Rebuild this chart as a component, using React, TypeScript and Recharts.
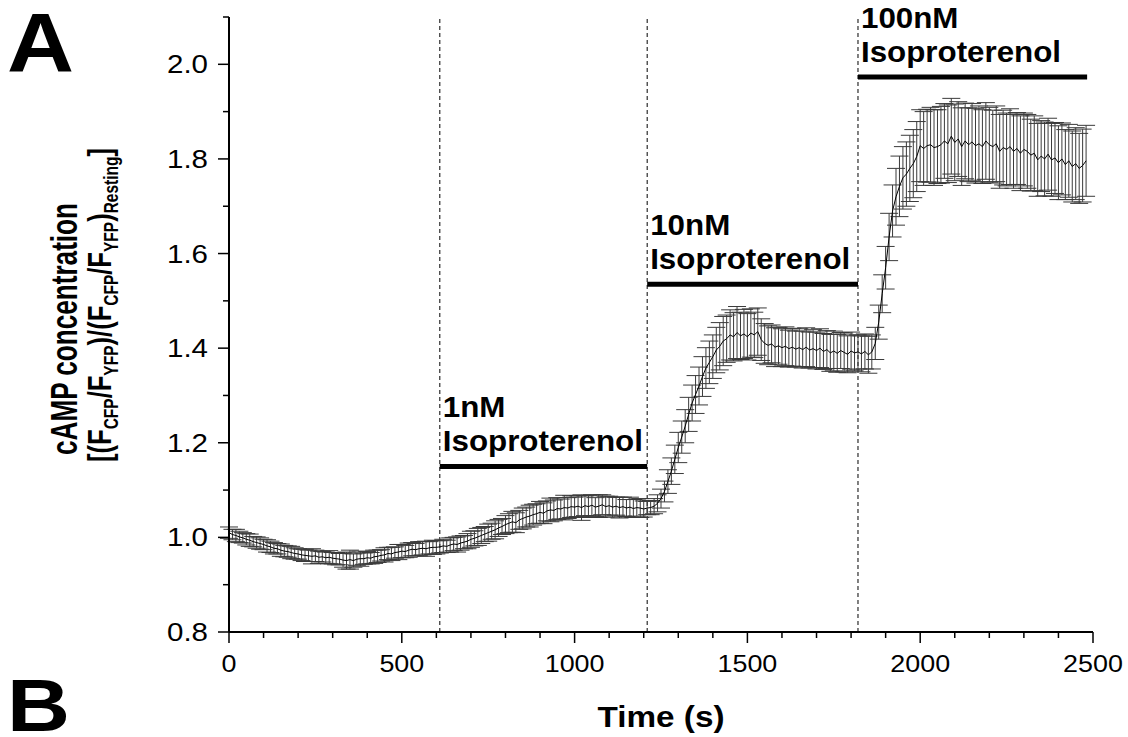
import { ComposedChart, Line, XAxis, YAxis, ErrorBar, ReferenceLine } from 'recharts';

// sampling interval of the recording, s
const STEP = 10;

// resting, 0–600 s
const restMean = [
  1.010, 1.006, 1.004, 1.001, 0.999, 0.996, 0.994, 0.991, 0.989, 0.987,
  0.985, 0.982, 0.980, 0.977, 0.976, 0.973, 0.971, 0.970, 0.968, 0.966,
  0.965, 0.963, 0.962, 0.961, 0.960, 0.961, 0.958, 0.959, 0.957, 0.958,
  0.956, 0.955, 0.954, 0.952, 0.951, 0.953, 0.951, 0.954, 0.955, 0.955,
  0.957, 0.956, 0.959, 0.960, 0.962, 0.963, 0.966, 0.965, 0.968, 0.969,
  0.971, 0.970, 0.973, 0.975, 0.974, 0.976, 0.977, 0.976, 0.978, 0.979, 0.979,
];
const restErr = [
  0.012, 0.011, 0.013, 0.012, 0.011, 0.012, 0.013, 0.011, 0.012, 0.012,
  0.011, 0.013, 0.012, 0.012, 0.011, 0.013, 0.012, 0.012, 0.013, 0.012,
  0.011, 0.012, 0.013, 0.012, 0.016, 0.012, 0.013, 0.011, 0.012, 0.014,
  0.012, 0.013, 0.012, 0.015, 0.018, 0.020, 0.014, 0.013, 0.016, 0.012,
  0.013, 0.012, 0.014, 0.013, 0.012, 0.015, 0.013, 0.014, 0.012, 0.016,
  0.014, 0.013, 0.015, 0.014, 0.013, 0.015, 0.014, 0.016, 0.013, 0.015, 0.014,
];

// 1 nM isoproterenol, 610–1200 s
const nM1Mean = [
  0.980, 0.982, 0.981, 0.984, 0.986, 0.985, 0.988, 0.990, 0.992, 0.996,
  0.998, 1.001, 1.004, 1.007, 1.010, 1.013, 1.016, 1.020, 1.023, 1.027,
  1.030, 1.033, 1.031, 1.037, 1.040, 1.043, 1.045, 1.048, 1.050, 1.053,
  1.051, 1.056, 1.058, 1.057, 1.061, 1.060, 1.063, 1.062, 1.065, 1.064,
  1.066, 1.063, 1.067, 1.065, 1.068, 1.064, 1.066, 1.069, 1.065, 1.067,
  1.064, 1.066, 1.063, 1.065, 1.062, 1.064, 1.061, 1.063, 1.062, 1.060,
];
const nM1Err = [
  0.013, 0.014, 0.013, 0.015, 0.014, 0.016, 0.015, 0.014, 0.016, 0.017,
  0.016, 0.018, 0.017, 0.016, 0.018, 0.017, 0.019, 0.018, 0.017, 0.019,
  0.020, 0.022, 0.021, 0.020, 0.022, 0.021, 0.023, 0.022, 0.021, 0.023,
  0.022, 0.021, 0.025, 0.022, 0.023, 0.021, 0.026, 0.022, 0.023, 0.021,
  0.022, 0.027, 0.021, 0.023, 0.022, 0.020, 0.024, 0.021, 0.022, 0.020,
  0.021, 0.019, 0.022, 0.020, 0.018, 0.021, 0.019, 0.018, 0.020, 0.017,
];

// 10 nM isoproterenol, 1210–1810 s
const nM10Mean = [
  1.062, 1.063, 1.066, 1.072, 1.082, 1.097, 1.118, 1.140, 1.165, 1.190,
  1.212, 1.235, 1.260, 1.284, 1.302, 1.320, 1.340, 1.358, 1.370, 1.382,
  1.396, 1.404, 1.415, 1.420, 1.428, 1.424, 1.433, 1.426, 1.430, 1.424,
  1.432, 1.428, 1.435, 1.418, 1.410, 1.406, 1.409, 1.402, 1.405, 1.401,
  1.404, 1.399, 1.402, 1.398, 1.401, 1.397, 1.402, 1.396, 1.399, 1.395,
  1.400, 1.393, 1.397, 1.390, 1.394, 1.389, 1.395, 1.391, 1.387, 1.394, 1.390,
];
const nM10Err = [
  0.014, 0.015, 0.016, 0.018, 0.020, 0.022, 0.025, 0.028, 0.030, 0.032,
  0.034, 0.035, 0.036, 0.038, 0.040, 0.040, 0.042, 0.043, 0.045, 0.046,
  0.048, 0.050, 0.052, 0.050, 0.053, 0.051, 0.055, 0.050, 0.052, 0.049,
  0.051, 0.048, 0.050, 0.044, 0.042, 0.041, 0.040, 0.041, 0.039, 0.040,
  0.041, 0.039, 0.040, 0.038, 0.040, 0.039, 0.041, 0.038, 0.040, 0.039,
  0.041, 0.038, 0.040, 0.039, 0.042, 0.040, 0.038, 0.041, 0.039, 0.040, 0.038,
];

// 100 nM isoproterenol, 1820–2480 s
const nM100Mean = [
  1.392, 1.388, 1.393, 1.386, 1.392, 1.410, 1.455, 1.515, 1.570, 1.635,
  1.690, 1.720, 1.742, 1.760, 1.768, 1.780, 1.790, 1.805, 1.828, 1.822,
  1.828, 1.830, 1.824, 1.826, 1.830, 1.838, 1.832, 1.848, 1.835, 1.842,
  1.826, 1.838, 1.830, 1.836, 1.828, 1.832, 1.826, 1.838, 1.830, 1.826,
  1.832, 1.816, 1.824, 1.820, 1.826, 1.816, 1.822, 1.812, 1.820, 1.816,
  1.808, 1.812, 1.798, 1.806, 1.800, 1.810, 1.798, 1.802, 1.792, 1.800,
  1.788, 1.796, 1.784, 1.790, 1.780, 1.786, 1.796,
];
const nM100Err = [
  0.036, 0.038, 0.037, 0.039, 0.036, 0.034, 0.036, 0.040, 0.045, 0.050,
  0.055, 0.060, 0.064, 0.066, 0.068, 0.070, 0.072, 0.074, 0.076, 0.078,
  0.077, 0.079, 0.080, 0.078, 0.081, 0.079, 0.082, 0.080, 0.081, 0.079,
  0.082, 0.080, 0.078, 0.081, 0.079, 0.080, 0.078, 0.081, 0.079, 0.077,
  0.080, 0.078, 0.079, 0.077, 0.080, 0.078, 0.076, 0.079, 0.077, 0.078,
  0.076, 0.079, 0.077, 0.075, 0.078, 0.076, 0.077, 0.075, 0.078, 0.076,
  0.074, 0.077, 0.075, 0.076, 0.074, 0.077, 0.075,
];

const phases = [
  { start: 0, mean: restMean, err: restErr },
  { start: 610, mean: nM1Mean, err: nM1Err },
  { start: 1210, mean: nM10Mean, err: nM10Err },
  { start: 1820, mean: nM100Mean, err: nM100Err },
];

// drug additions (s) and the bars above each period
const additions = [610, 1210, 1820];
const doses = [
  { label: '1nM', from: 610, to: 1210, level: 1.15 },
  { label: '10nM', from: 1210, to: 1820, level: 1.535 },
  { label: '100nM', from: 1820, to: 2483, level: 1.973 },
];

const xTicks = [
  0, 100, 200, 300, 400, 500, 600, 700, 800, 900, 1000, 1100, 1200, 1300,
  1400, 1500, 1600, 1700, 1800, 1900, 2000, 2100, 2200, 2300, 2400, 2500,
];
const xLabelled = [0, 500, 1000, 1500, 2000, 2500];
const yTicks = [0.8, 0.9, 1.0, 1.1, 1.2, 1.3, 1.4, 1.5, 1.6, 1.7, 1.8, 1.9, 2.0, 2.1];
const yLabelled = [0.8, 1.0, 1.2, 1.4, 1.6, 1.8, 2.0];

const data = phases.flatMap((p) =>
  p.mean.map((v, i) => ({ t: p.start + i * STEP, v, err: p.err[i] }))
);

const FONT = '"Liberation Sans", Arial, sans-serif';

const XTick = ({ x, y, payload }: any) => {
  const major = xLabelled.includes(payload.value);
  return (
    <g>
      <line x1={x} x2={x} y1={y} y2={y + (major ? 11 : 6)} stroke="#000" strokeWidth={1.5} />
      {major && (
        <text transform={`translate(${x},${y + 40}) scale(1.12,1)`} textAnchor="middle" fontSize={24} fill="#000">
          {payload.value}
        </text>
      )}
    </g>
  );
};

const YTick = ({ x, y, payload }: any) => {
  const major = yLabelled.some((l) => Math.abs(l - payload.value) < 1e-6);
  return (
    <g>
      <line x1={x} x2={x - (major ? 11 : 6)} y1={y} y2={y} stroke="#000" strokeWidth={1.5} />
      {major && (
        <text transform={`translate(${x - 21},${y + 9}) scale(1.18,1)`} textAnchor="end" fontSize={25} fill="#000">
          {payload.value.toFixed(1)}
        </text>
      )}
    </g>
  );
};

const DoseLabel = ({ viewBox, dose }: any) => {
  const { x, y } = viewBox;
  return (
    <g fontWeight="bold" fontSize={29} fill="#000">
      <text transform={`translate(${x + 3},${y - 49}) scale(1.08,1)`}>{dose}</text>
      <text transform={`translate(${x + 3},${y - 15}) scale(1.08,1)`}>Isoproterenol</text>
    </g>
  );
};

export default function App() {
  return (
    <div style={{ position: 'absolute', left: 0, top: 0, width: 1128, height: 737, background: '#fff', fontFamily: FONT }}>
      <ComposedChart width={1128} height={737} data={data} margin={{ top: 17, right: 35, bottom: 0, left: 0 }}>
        <XAxis
          dataKey="t"
          type="number"
          domain={[0, 2500]}
          ticks={xTicks}
          interval={0}
          tickSize={0}
          tickMargin={0}
          tickLine={false}
          tick={<XTick />}
          axisLine={{ stroke: '#000', strokeWidth: 2 }}
          height={105}
          allowDataOverflow
        />
        <YAxis
          type="number"
          domain={[0.8, 2.1]}
          ticks={yTicks}
          interval={0}
          tickSize={0}
          tickMargin={0}
          tickLine={false}
          tick={<YTick />}
          axisLine={{ stroke: '#000', strokeWidth: 2 }}
          width={229}
          allowDataOverflow
        />
        {additions.map((t) => (
          <ReferenceLine key={t} x={t} stroke="#000" strokeWidth={1} strokeDasharray="4 3" />
        ))}
        {doses.map((d) => (
          <ReferenceLine
            key={d.label}
            segment={[{ x: d.from, y: d.level }, { x: d.to, y: d.level }]}
            stroke="#000"
            strokeWidth={5}
            label={<DoseLabel dose={d.label} />}
          />
        ))}
        <Line
          type="linear"
          dataKey="v"
          stroke="#000"
          strokeWidth={1}
          dot={false}
          isAnimationActive={false}
        >
          <ErrorBar dataKey="err" direction="y" width={9} stroke="#3a3a3a" strokeWidth={1} />
        </Line>
      </ComposedChart>

      <svg width={1128} height={737} style={{ position: 'absolute', left: 0, top: 0, pointerEvents: 'none' }}>
        <g fontWeight="bold" fill="#000">
          <text x={7} y={72} fontSize={84} textLength={67} lengthAdjust="spacingAndGlyphs">A</text>
          <text x={7} y={731} fontSize={74} textLength={63} lengthAdjust="spacingAndGlyphs">B</text>
          <text
            transform="translate(77,329) rotate(-90)"
            textAnchor="middle"
            fontSize={37}
            textLength={252}
            lengthAdjust="spacingAndGlyphs"
          >
            cAMP concentration
          </text>
          <text
            transform="translate(111,305) rotate(-90)"
            textAnchor="middle"
            fontSize={33}
            textLength={314}
            lengthAdjust="spacingAndGlyphs"
          >
            [(F<tspan fontSize={20} dy={7}>CFP</tspan>
            <tspan dy={-7}>/F</tspan>
            <tspan fontSize={20} dy={7}>YFP</tspan>
            <tspan dy={-7}>)/(F</tspan>
            <tspan fontSize={20} dy={7}>CFP</tspan>
            <tspan dy={-7}>/F</tspan>
            <tspan fontSize={20} dy={7}>YFP</tspan>
            <tspan dy={-7}>)</tspan>
            <tspan fontSize={20} dy={7}>Resting</tspan>
            <tspan dy={-7}>]</tspan>
          </text>
          <text x={661} y={727} textAnchor="middle" fontSize={30} textLength={127} lengthAdjust="spacingAndGlyphs">
            Time (s)
          </text>
        </g>
      </svg>
    </div>
  );
}
